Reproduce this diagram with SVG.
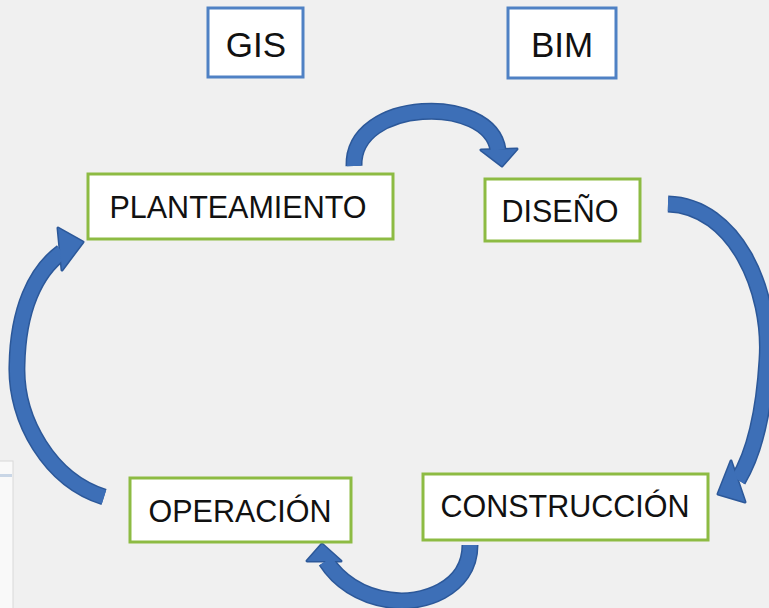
<svg xmlns="http://www.w3.org/2000/svg" width="769" height="608" viewBox="0 0 769 608">
  <style>
    .bg { fill: #f0f0f0; }
    .tag rect { fill: #ffffff; stroke: #4f81c4; stroke-width: 3; }
    .node rect { fill: #ffffff; stroke: #8dbb43; stroke-width: 3; }
    text { font-family: "Liberation Sans", Arial, sans-serif; fill: #111111; text-anchor: middle; }
    .tag text { font-size: 35px; }
    .node text { font-size: 30.5px; }
    .edge { fill: none; stroke: #2c5899; stroke-width: 17; stroke-linecap: butt; }
    .shaft { fill: none; stroke: #3d6fb7; stroke-width: 14; stroke-linecap: butt; }
    .head-edge { fill: #2c5899; stroke: #2c5899; stroke-width: 3; stroke-linejoin: round; }
    .head { fill: #3d6fb7; }
  </style>
  <rect class="bg" x="0" y="0" width="769" height="608"/>
  <!-- small window fragment at bottom-left -->
  <rect x="-2" y="461" width="15" height="150" fill="#f9f9f9" stroke="#d8d8d8" stroke-width="1"/>
  <rect x="0" y="474" width="12" height="3" fill="#c9d6e6"/>

  <g id="connectors">
    <g id="arrow-top">
      <path class="edge" d="M354,166 C352,98 490,94 498,150"/>
      <polygon class="head-edge" points="481,150 517,149 502,166"/>
      <path class="shaft" d="M354,166 C352,98 490,94 498,150"/>
      <polygon class="head" points="481,150 517,149 502,166"/>
    </g>
    <g id="arrow-right">
      <path class="edge" d="M668,204 C735,206 772,290 767,360 C764,410 755,452 738,480"/>
      <polygon class="head-edge" points="731,461 745,502 718,494"/>
      <path class="shaft" d="M668,204 C735,206 772,290 767,360 C764,410 755,452 738,480"/>
      <polygon class="head" points="731,461 745,502 718,494"/>
    </g>
    <g id="arrow-bottom">
      <path class="edge" d="M470,545 C470,590 420,605 390,600 C360,596 338,580 326,561"/>
      <polygon class="head-edge" points="307,561 341,561 322,544"/>
      <path class="shaft" d="M470,545 C470,590 420,605 390,600 C360,596 338,580 326,561"/>
      <polygon class="head" points="307,561 341,561 322,544"/>
    </g>
    <g id="arrow-left">
      <path class="edge" d="M104,497 C50,480 15,420 17,365 C18,310 35,272 62,252"/>
      <polygon class="head-edge" points="58,228 83,242 62,270"/>
      <path class="shaft" d="M104,497 C50,480 15,420 17,365 C18,310 35,272 62,252"/>
      <polygon class="head" points="58,228 83,242 62,270"/>
    </g>
  </g>

  <g id="gis" class="tag">
    <rect x="208" y="8" width="95" height="69"/>
    <text x="256" y="57">GIS</text>
  </g>
  <g id="bim" class="tag">
    <rect x="508" y="8" width="108" height="70"/>
    <text x="562" y="57">BIM</text>
  </g>
  <g id="planteamiento" class="node">
    <rect x="88" y="174" width="305" height="65"/>
    <text x="238" y="218">PLANTEAMIENTO</text>
  </g>
  <g id="diseno" class="node">
    <rect x="485" y="179" width="155" height="62"/>
    <text x="560" y="222">DISEÑO</text>
  </g>
  <g id="operacion" class="node">
    <rect x="130" y="478" width="221" height="64"/>
    <text x="240" y="522">OPERACIÓN</text>
  </g>
  <g id="construccion" class="node">
    <rect x="423" y="474" width="285" height="66"/>
    <text x="565" y="517">CONSTRUCCIÓN</text>
  </g>
</svg>
